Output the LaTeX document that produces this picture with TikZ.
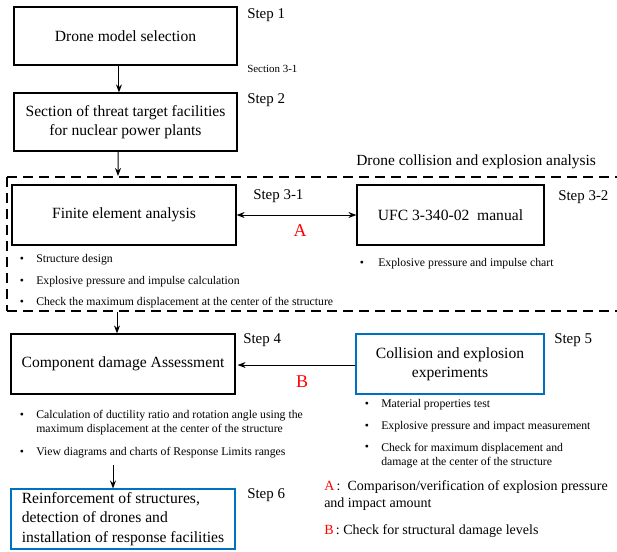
\documentclass[tikz,border=0pt]{standalone}
\usepackage{fontspec}
\setmainfont{Liberation Serif}
\usetikzlibrary{arrows.meta}
\definecolor{boxblue}{RGB}{0,112,192}
\definecolor{myred}{RGB}{255,0,0}
\begin{document}
\begin{tikzpicture}[x=0.75pt,y=-0.75pt,
  box/.style={draw, line width=0.9pt, inner sep=0pt, align=center, font=\fontsize{11.7}{14.3}\selectfont},
  bluebox/.style={box, draw=boxblue, line width=0.8pt},
  steplbl/.style={anchor=west, inner sep=0pt, font=\fontsize{11.2}{13}\selectfont},
  small/.style={anchor=west, inner sep=0pt, font=\fontsize{8.2}{10}\selectfont},
  bul/.style={anchor=center, inner sep=0pt, font=\fontsize{8.8}{10.5}\selectfont},
  bultxt/.style={anchor=west, inner sep=0pt, align=left, font=\fontsize{8.8}{10.5}\selectfont},
  redlbl/.style={inner sep=0pt, text=myred, font=\fontsize{13.5}{15}\selectfont},
  legend/.style={anchor=west, inner sep=0pt, align=left, font=\fontsize{10.5}{12.75}\selectfont},
  header/.style={anchor=west, inner sep=0pt, font=\fontsize{11.6}{14}\selectfont},
  arr/.style={line width=0.75pt, -{Stealth[length=6pt,width=4.5pt]}},
  dblarr/.style={line width=0.75pt, {Stealth[length=6pt,width=4.5pt]}-{Stealth[length=6pt,width=4.5pt]}},
  dashline/.style={line width=2pt, dash pattern=on 7.5pt off 4.5pt}
]
\useasboundingbox (0,0) rectangle (617,551);
\fill[white] (0,0) rectangle (617,551);

% boxes
\node[box, minimum width=167.25pt, minimum height=43.5pt] (b1) at (125.5,36) {Drone model selection};
\node[box, minimum width=167.25pt, minimum height=43.5pt] (b2) at (125.5,122) {Section of threat target facilities\\for nuclear power plants};
\node[box, minimum width=168pt, minimum height=45pt] (fea) at (124,215) {Finite element analysis};
\node[box, minimum width=140.25pt, minimum height=45pt] (ufc) at (450.5,215) {UFC 3-340-02\ \ manual};
\node[box, minimum width=168pt, minimum height=45pt] (b4) at (123,364) {Component damage Assessment};
\node[bluebox, minimum width=141pt, minimum height=45pt] (b5) at (450,364) {Collision and explosion\\experiments};
\node[bluebox, minimum width=168pt, minimum height=45pt, align=left, font=\fontsize{11.7}{14.6}\selectfont] (b6) at (123,519) {Reinforcement of structures,\\detection of drones and\\installation of response facilities};

% step labels
\node[steplbl] (s1) at (247,15) {Step 1};
\node[small] (sec) at (247,69) {Section 3-1};
\node[steplbl] (s2) at (247,100) {Step 2};
\node[steplbl] (s31) at (253,196) {Step 3-1};
\node[steplbl] (s32) at (558,197) {Step 3-2};
\node[steplbl] (s4) at (243,340) {Step 4};
\node[steplbl] (s5) at (554,340) {Step 5};
\node[steplbl] (s6) at (247,495) {Step 6};
\node[header] (hdr) at (356,162) {Drone collision and explosion analysis};

% dashed region
\draw[dashline] (7,177) -- (617,177);
\draw[dashline] (7,311) -- (617,311);
\draw[dashline] (7,177) -- (7,311);
\coordinate (dtop) at (118,176);
\coordinate (dbot) at (117,312);
\coordinate (b4out) at (113,465);

% connectors
\draw[arr] ([xshift=-4.9pt]b1.south) -- ([xshift=-4.9pt]b2.north);
\draw[arr] ([xshift=-5.6pt]b2.south) -- (dtop);
\draw[dblarr] (fea.east) -- (ufc.west);
\draw[arr] (dbot) -- (dbot |- b4.north);
\draw[arr, shorten >=1.5pt] (b5.west |- 0,365) -- (b4.east |- 0,365);
\draw[arr] (b4out) -- (b4out |- b6.north);

\node[redlbl] (la) at (300,231) {A};
\node[redlbl] (lb) at (302,382) {B};

% bullets FEA
\node[bul] (fb1) at (22,260) {\textbullet};
\node[bultxt] (ft1) at (36,260) {Structure design};
\node[bul] (fb2) at (22,282) {\textbullet};
\node[bultxt] (ft2) at (36,282) {Explosive pressure and impulse calculation};
\node[bul] (fb3) at (22,303) {\textbullet};
\node[bultxt] (ft3) at (36,303) {Check the maximum displacement at the center of the structure};
% bullets UFC
\node[bul] (ub1) at (362,264) {\textbullet};
\node[bultxt] (ut1) at (378,264) {Explosive pressure and impulse chart};
% bullets step 4
\node[bul] (cb1) at (22,416) {\textbullet};
\node[bultxt] (ct1) at (36,423) {Calculation of ductility ratio and rotation angle using the\\maximum displacement at the center of the structure};
\node[bul] (cb2) at (22,453) {\textbullet};
\node[bultxt] (ct2) at (36,453) {View diagrams and charts of Response Limits ranges};
% bullets step 5
\node[bul] (eb1) at (367,405) {\textbullet};
\node[bultxt] (et1) at (381,405) {Material properties test};
\node[bul] (eb2) at (367,427) {\textbullet};
\node[bultxt] (et2) at (381,427) {Explosive pressure and impact measurement};
\node[bul] (eb3) at (367,448) {\textbullet};
\node[bultxt] (et3) at (381,455.5) {Check for maximum displacement and\\damage at the center of the structure};

% legend
\node[legend] (lga) at (324,495.5) {{\color{myred}A}\,:\ \ Comparison/verification of explosion pressure\\and impact amount};
\node[legend] (lgb) at (324,531) {{\color{myred}B}\,: Check for structural damage levels};
\end{tikzpicture}
\end{document}
